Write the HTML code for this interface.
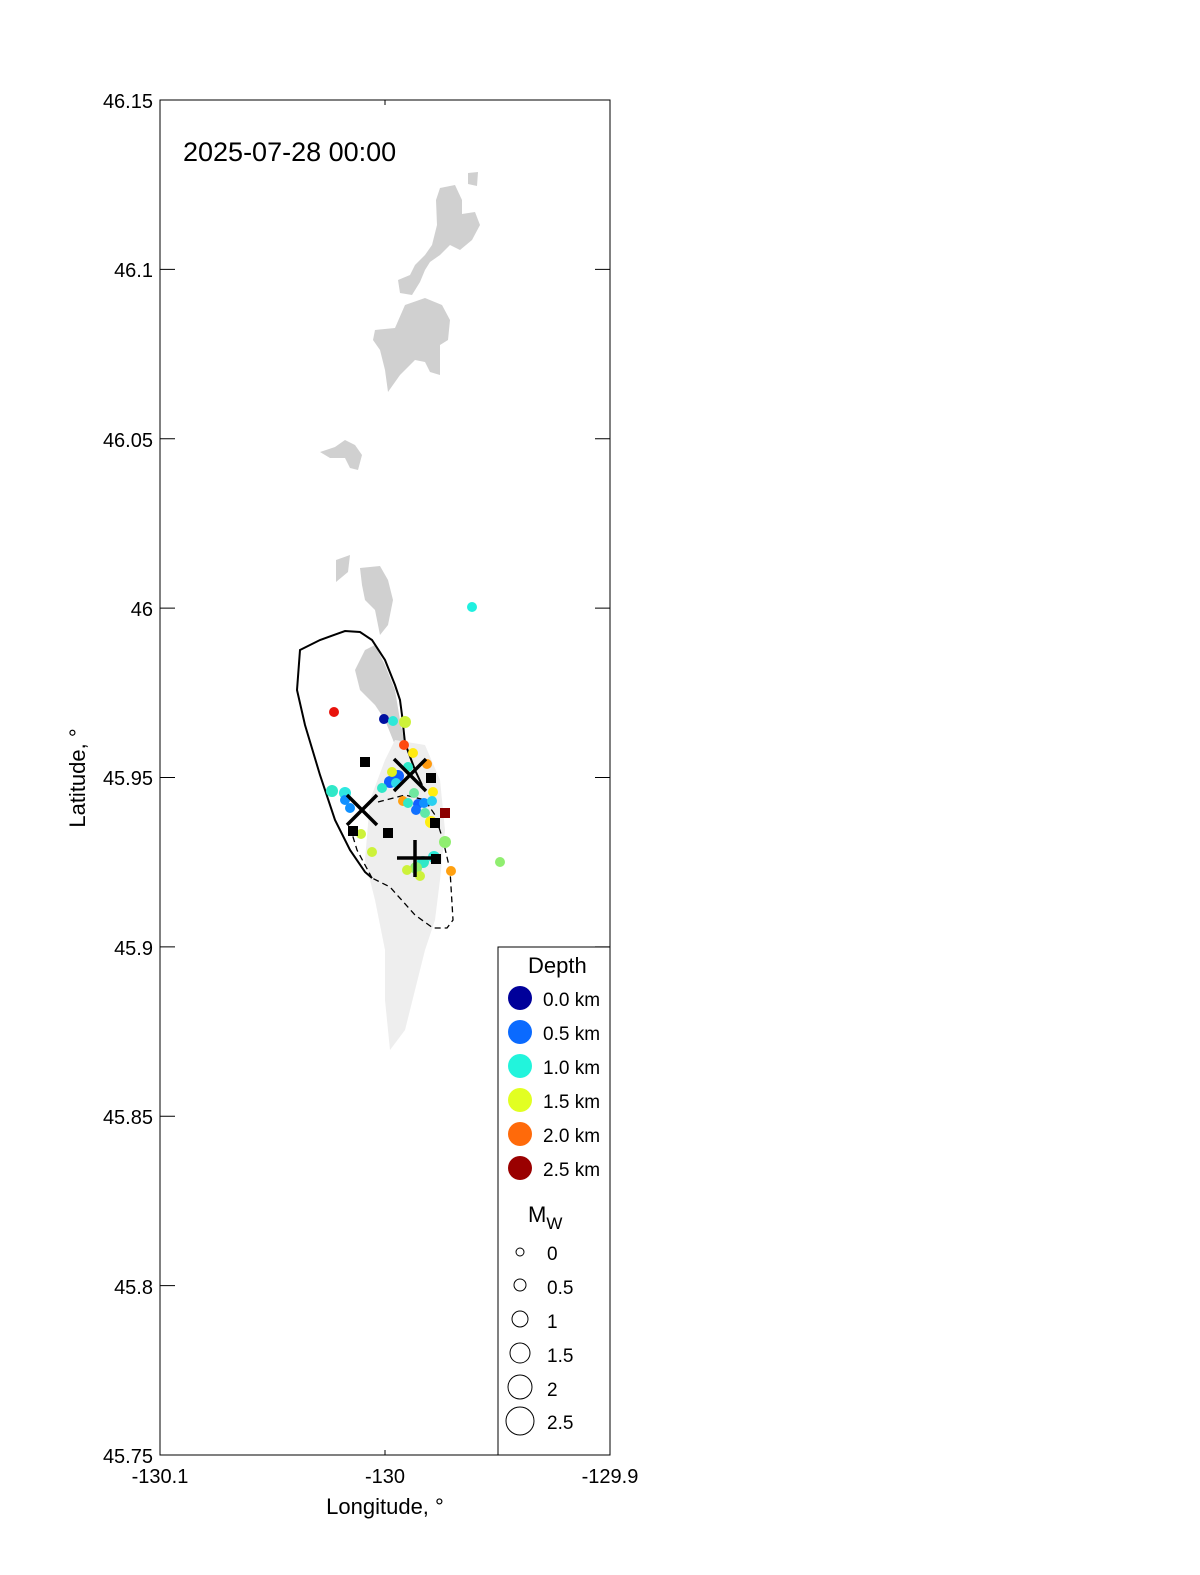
<!DOCTYPE html>
<html><head><style>html,body{margin:0;padding:0;background:#fff;overflow:hidden;width:1200px;height:1575px}svg{display:block}text{font-family:"Liberation Sans",sans-serif}</style></head><body>
<svg width="1200" height="1575" viewBox="0 0 1200 1575" xmlns="http://www.w3.org/2000/svg">
<g fill="#d0d0d0">
<path d="M468,173 L478,172 L477,186 L468,184Z"/>
<path d="M440,188 L455,185 L462,200 L462,214 L475,212 L480,225 L472,240 L460,250 L450,245 L440,255 L430,262 L425,270 L420,282 L412,295 L400,293 L398,280 L410,275 L415,265 L425,255 L432,245 L437,225 L436,200Z"/>
<path d="M375,330 L395,328 L405,305 L425,298 L442,305 L450,320 L448,340 L440,345 L440,375 L430,372 L425,362 L415,360 L400,375 L388,392 L385,370 L380,350 L373,340Z"/>
<path d="M320,452 L335,447 L345,440 L355,445 L362,455 L358,470 L350,468 L345,458 L330,458Z"/>
<path d="M336,560 L350,555 L348,572 L336,582Z"/>
<path d="M360,568 L380,566 L388,580 L393,600 L388,625 L380,635 L375,610 L365,600 L362,585Z"/>
<path d="M365,650 L375,645 L385,665 L395,690 L400,720 L405,745 L395,745 L385,720 L375,705 L360,690 L355,670Z"/>
</g>
<path fill="#eeeeee" d="M395,740 L425,745 L440,780 L445,830 L440,880 L435,920 L425,950 L415,990 L405,1030 L390,1050 L385,1000 L385,950 L375,900 L365,860 L370,800 L385,760Z"/>
<path fill="none" stroke="#000" stroke-width="2" d="M372,878 L365,872 L350,850 L335,820 L320,775 L305,725 L297,690 L300,650 L320,640 L345,631 L360,632 L372,640 L385,660 L395,685 L400,700 L402,715 L405,743 L415,770 L422,785"/>
<path fill="none" stroke="#000" stroke-width="1.3" stroke-dasharray="6,4" d="M372,878 L357,850 L350,827 M378,802 L405,795 L425,800 L435,815 L443,840 L450,870 L453,920 L447,928 L433,928 L415,915 L390,887 L372,878"/>
<g>
<circle cx="334" cy="712" r="5" fill="#e8130c"/>
<circle cx="384" cy="719" r="5" fill="#0010a0"/>
<circle cx="393" cy="721" r="5" fill="#2ee8d8"/>
<circle cx="405" cy="722" r="6" fill="#cdf23a"/>
<circle cx="404" cy="745" r="5" fill="#ff4a10"/>
<circle cx="413" cy="753" r="5" fill="#ffea10"/>
<circle cx="408" cy="767" r="5" fill="#30e8c8"/>
<circle cx="427" cy="764" r="5" fill="#ff9a10"/>
<circle cx="398" cy="776" r="6" fill="#1060ff"/>
<circle cx="390" cy="782" r="6" fill="#1060ff"/>
<circle cx="396" cy="783" r="5" fill="#2ed8e8"/>
<circle cx="382" cy="788" r="5" fill="#30e8c8"/>
<circle cx="392" cy="772" r="5" fill="#e0f020"/>
<circle cx="433" cy="792" r="5" fill="#ffee10"/>
<circle cx="414" cy="793" r="5" fill="#70e8a0"/>
<circle cx="332" cy="791" r="6" fill="#30e8c8"/>
<circle cx="345" cy="793" r="6" fill="#2ee8e0"/>
<circle cx="345" cy="800" r="5" fill="#1090ff"/>
<circle cx="350" cy="808" r="5" fill="#1090ff"/>
<circle cx="403" cy="801" r="5" fill="#ffa010"/>
<circle cx="408" cy="803" r="5" fill="#30e8c8"/>
<circle cx="418" cy="804" r="5" fill="#1060ff"/>
<circle cx="424" cy="803" r="5" fill="#1090ff"/>
<circle cx="432" cy="801" r="5" fill="#2ad0f0"/>
<circle cx="416" cy="810" r="5" fill="#1070ff"/>
<circle cx="425" cy="813" r="5" fill="#60e8a8"/>
<circle cx="431" cy="822" r="6" fill="#ffee10"/>
<circle cx="361" cy="834" r="5" fill="#cdf23a"/>
<circle cx="445" cy="842" r="6" fill="#90ee70"/>
<circle cx="372" cy="852" r="5" fill="#cdf23a"/>
<circle cx="434" cy="857" r="6" fill="#2ee8d8"/>
<circle cx="423" cy="862" r="6" fill="#30e8c8"/>
<circle cx="416" cy="868" r="6" fill="#90ee70"/>
<circle cx="407" cy="870" r="5" fill="#cdf23a"/>
<circle cx="420" cy="876" r="5" fill="#cdf23a"/>
<circle cx="451" cy="871" r="5" fill="#ffa010"/>
<circle cx="500" cy="862" r="5" fill="#90ee70"/>
<circle cx="472" cy="607" r="5" fill="#20f0e0"/>
</g>
<g fill="#000">
<rect x="360" y="757" width="10" height="10"/>
<rect x="426" y="773" width="10" height="10"/>
<rect x="383" y="828" width="10" height="10"/>
<rect x="348" y="826" width="10" height="10"/>
<rect x="430" y="818" width="10" height="10"/>
<rect x="431" y="854" width="10" height="10"/>
<rect x="440" y="808" width="10" height="10" fill="#8b0000"/>
</g>
<g stroke="#000" stroke-width="3.5">
<path d="M394,759 L426,791 M426,759 L394,791"/>
<path d="M347,795 L377,825 M377,795 L347,825"/>
<path d="M397,858 L435,858 M415,840 L415,877"/>
</g>
<rect x="160" y="100" width="450" height="1355" fill="none" stroke="#000" stroke-width="1"/>
<g stroke="#000" stroke-width="1">
<path d="M160,269.4h15M160,438.8h15M160,608.1h15M160,777.5h15M160,946.9h15M160,1116.3h15M160,1285.6h15"/>
<path d="M610,269.4h-15M610,438.8h-15M610,608.1h-15M610,777.5h-15M610,946.9h-15M610,1116.3h-15M610,1285.6h-15"/>
<path d="M385,1455v-5M385,100v5"/>
</g>
<g font-size="20" text-anchor="end">
<text x="153" y="108">46.15</text><text x="153" y="277">46.1</text><text x="153" y="447">46.05</text>
<text x="153" y="616">46</text><text x="153" y="785">45.95</text><text x="153" y="955">45.9</text>
<text x="153" y="1124">45.85</text><text x="153" y="1294">45.8</text><text x="153" y="1463">45.75</text>
</g>
<g font-size="20" text-anchor="middle">
<text x="160" y="1483">-130.1</text><text x="385" y="1483">-130</text><text x="610" y="1483">-129.9</text>
<text x="385" y="1514" font-size="22">Longitude, °</text>
</g>
<text transform="translate(85,778) rotate(-90)" font-size="22" text-anchor="middle">Latitude, °</text>
<text x="183" y="161" font-size="27">2025-07-28 00:00</text>
<rect x="498" y="947" width="112" height="508" fill="#fff" stroke="#000" stroke-width="1"/>
<g font-size="19">
<text x="528" y="973" font-size="22">Depth</text>
<circle cx="520" cy="998" r="12" fill="#00009a"/><text x="543" y="1006">0.0 km</text>
<circle cx="520" cy="1032" r="12" fill="#0a6aff"/><text x="543" y="1040">0.5 km</text>
<circle cx="520" cy="1066" r="12" fill="#22f4dc"/><text x="543" y="1074">1.0 km</text>
<circle cx="520" cy="1100" r="12" fill="#e2ff22"/><text x="543" y="1108">1.5 km</text>
<circle cx="520" cy="1134" r="12" fill="#ff6a0a"/><text x="543" y="1142">2.0 km</text>
<circle cx="520" cy="1168" r="12" fill="#9a0000"/><text x="543" y="1176">2.5 km</text>
<text x="528" y="1222" font-size="22">M<tspan font-size="17" dy="7">W</tspan></text>
<g fill="none" stroke="#000" stroke-width="1">
<circle cx="520" cy="1252" r="4"/><circle cx="520" cy="1285" r="6"/><circle cx="520" cy="1319" r="8"/>
<circle cx="520" cy="1353" r="10"/><circle cx="520" cy="1387" r="12"/><circle cx="520" cy="1421" r="14"/>
</g>
<text x="547" y="1260">0</text><text x="547" y="1294">0.5</text><text x="547" y="1328">1</text>
<text x="547" y="1362">1.5</text><text x="547" y="1396">2</text><text x="547" y="1429">2.5</text>
</g>
</svg>
</body></html>
